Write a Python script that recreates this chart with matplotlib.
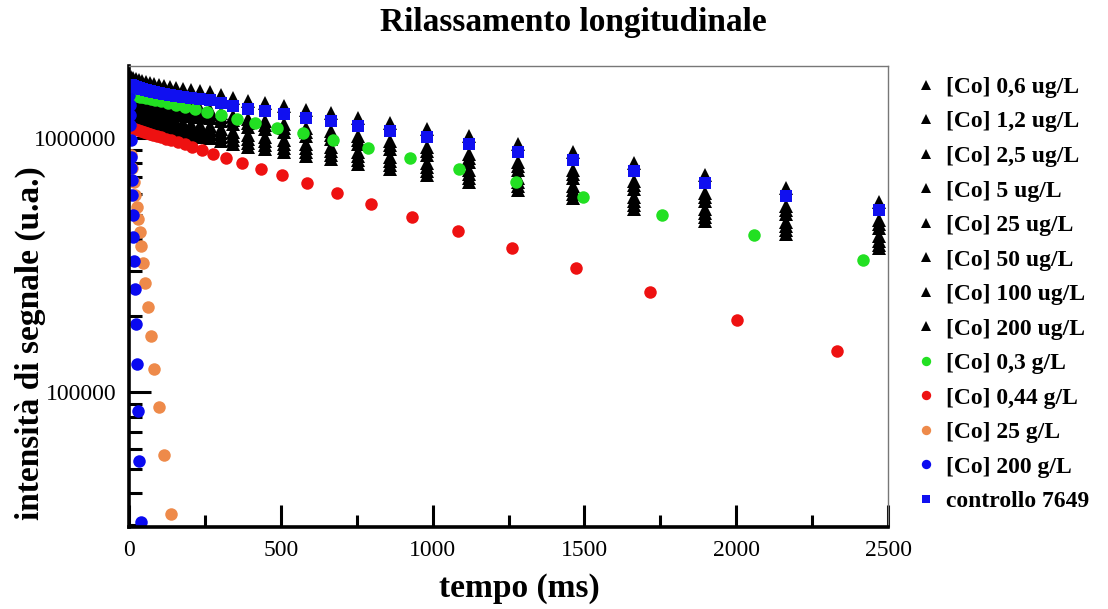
import numpy as np
import matplotlib
matplotlib.use("Agg")
import matplotlib.pyplot as plt
from matplotlib.ticker import FixedLocator, LogLocator, NullFormatter

plt.rcParams['font.family'] = ['Liberation Serif', 'DejaVu Serif']

# tempi (ms) serie triangoli / controllo
t_main = [5, 13, 23, 33, 43, 56, 69, 82, 99, 115, 135, 155, 178, 204, 234, 267, 303,
          343, 392, 449, 511, 584, 666, 755, 861, 983, 1121, 1280, 1461, 1662, 1896,
          2164, 2470]

# valori in milioni (u.a.)
co_06ug = [1.732, 1.717, 1.701, 1.686, 1.671, 1.656, 1.640, 1.625, 1.611, 1.596, 1.582,
           1.568, 1.554, 1.540, 1.527, 1.513, 1.473, 1.434, 1.395, 1.371, 1.334, 1.287,
           1.252, 1.198, 1.145, 1.085, 1.018, 0.948, 0.882, 0.799, 0.717, 0.637, 0.558]
co_12ug = [1.471, 1.458, 1.444, 1.432, 1.419, 1.406, 1.393, 1.380, 1.369, 1.356, 1.344,
           1.332, 1.320, 1.308, 1.296, 1.285, 1.251, 1.218, 1.185, 1.164, 1.133, 1.093,
           1.064, 1.017, 0.972, 0.921, 0.865, 0.805, 0.749, 0.678, 0.609, 0.541, 0.474]
co_25ug = [1.419, 1.407, 1.394, 1.381, 1.369, 1.357, 1.344, 1.332, 1.321, 1.308, 1.297,
           1.285, 1.274, 1.262, 1.251, 1.240, 1.207, 1.175, 1.144, 1.123, 1.093, 1.055,
           1.026, 0.981, 0.938, 0.889, 0.834, 0.777, 0.722, 0.655, 0.588, 0.522, 0.457]
co_5ug = [1.368, 1.356, 1.343, 1.331, 1.319, 1.307, 1.296, 1.284, 1.273, 1.261, 1.250,
          1.239, 1.228, 1.217, 1.206, 1.195, 1.163, 1.133, 1.102, 1.082, 1.054, 1.016,
          0.989, 0.946, 0.904, 0.857, 0.804, 0.749, 0.696, 0.631, 0.566, 0.503, 0.441]
co_25ugb = [1.273, 1.262, 1.250, 1.239, 1.228, 1.217, 1.206, 1.194, 1.184, 1.173, 1.163,
            1.153, 1.142, 1.132, 1.122, 1.112, 1.082, 1.054, 1.025, 1.007, 0.980, 0.946,
            0.920, 0.880, 0.841, 0.797, 0.748, 0.697, 0.648, 0.587, 0.527, 0.468, 0.410]
co_50ug = [1.228, 1.217, 1.205, 1.195, 1.184, 1.173, 1.163, 1.152, 1.142, 1.132, 1.122,
           1.112, 1.102, 1.092, 1.082, 1.072, 1.044, 1.017, 0.989, 0.972, 0.946, 0.912,
           0.888, 0.849, 0.812, 0.769, 0.722, 0.672, 0.625, 0.566, 0.508, 0.452, 0.395]
co_100ug = [1.184, 1.174, 1.163, 1.152, 1.142, 1.132, 1.122, 1.111, 1.102, 1.091, 1.082,
            1.072, 1.063, 1.053, 1.044, 1.034, 1.007, 0.980, 0.954, 0.937, 0.912, 0.880,
            0.856, 0.819, 0.783, 0.742, 0.696, 0.648, 0.603, 0.546, 0.490, 0.436, 0.381]
co_200ug = [1.142, 1.132, 1.122, 1.112, 1.102, 1.092, 1.082, 1.072, 1.063, 1.053, 1.044,
            1.034, 1.025, 1.016, 1.007, 0.998, 0.971, 0.946, 0.920, 0.904, 0.880, 0.849,
            0.826, 0.790, 0.755, 0.715, 0.671, 0.625, 0.581, 0.527, 0.473, 0.420, 0.368]
controllo = [1.611, 1.597, 1.582, 1.568, 1.554, 1.540, 1.526, 1.512, 1.499, 1.485, 1.472,
             1.459, 1.446, 1.433, 1.420, 1.407, 1.370, 1.334, 1.298, 1.275, 1.241, 1.197,
             1.165, 1.114, 1.065, 1.009, 0.947, 0.882, 0.820, 0.743, 0.667, 0.593, 0.519]

t_03g = [26, 35, 46, 57, 71, 87, 106, 129, 155, 184, 218, 257, 303, 356, 416, 488, 574,
         673, 788, 927, 1088, 1276, 1497, 1755, 2058, 2418]
co_03g = [1.464, 1.456, 1.446, 1.436, 1.424, 1.410, 1.393, 1.373, 1.351, 1.327, 1.299,
          1.268, 1.233, 1.193, 1.149, 1.099, 1.042, 0.979, 0.912, 0.837, 0.757, 0.674,
          0.587, 0.500, 0.414, 0.331]

t_044g = [10, 20, 30, 40, 50, 60, 70, 80, 92, 106, 121, 139, 160, 183, 209, 240, 277, 320,
          372, 435, 504, 586, 685, 797, 932, 1084, 1262, 1472, 1716, 2003, 2332]
co_044g = [1.096, 1.086, 1.077, 1.068, 1.058, 1.049, 1.040, 1.031, 1.020, 1.008, 0.995,
           0.980, 0.962, 0.943, 0.921, 0.897, 0.869, 0.837, 0.800, 0.757, 0.713, 0.664,
           0.609, 0.552, 0.491, 0.430, 0.368, 0.307, 0.248, 0.193, 0.145]

t_25g = [5, 10, 15, 20, 25, 30, 35, 40, 46, 53, 62, 72, 83, 98, 115, 138]
co_25g = [0.857, 0.762, 0.671, 0.596, 0.535, 0.480, 0.426, 0.376, 0.322, 0.269, 0.216,
          0.166, 0.1232, 0.0873, 0.0565, 0.0331]

t_200g = [1, 2, 3, 4, 5, 6.6, 7.6, 8.7, 10.1, 11.9, 13.9, 16.1, 18.7, 21.9, 25.6, 29.9,
          34.4, 40]
co_200g = [1.477, 1.349, 1.232, 1.125, 0.982, 0.842, 0.762, 0.683, 0.596, 0.497, 0.408,
           0.328, 0.254, 0.185, 0.1289, 0.0842, 0.0535, 0.0308]

tri_series = [("[Co] 0,6 ug/L", co_06ug), ("[Co] 1,2 ug/L", co_12ug),
              ("[Co] 2,5 ug/L", co_25ug), ("[Co] 5 ug/L", co_5ug),
              ("[Co] 25 ug/L", co_25ugb), ("[Co] 50 ug/L", co_50ug),
              ("[Co] 100 ug/L", co_100ug), ("[Co] 200 ug/L", co_200ug)]

fig = plt.figure(figsize=(11.08, 6.09), dpi=100)
ax = fig.add_axes([129 / 1108, 1 - 527 / 609, (888 - 129) / 1108, (527 - 66) / 609])

for lab, vals in tri_series:
    ax.plot(t_main, np.array(vals) * 1e6, '^', color='black', ms=9.5, mew=0, label=lab)
ax.plot(t_03g, np.array(co_03g) * 1e6, 'o', color='#22e022', ms=9, mew=0, label="[Co] 0,3 g/L")
ax.plot(t_044g, np.array(co_044g) * 1e6, 'o', color='#ee1111', ms=9, mew=0, label="[Co] 0,44 g/L")
ax.plot(t_25g, np.array(co_25g) * 1e6, 'o', color='#ee8a4a', ms=9, mew=0, label="[Co] 25 g/L")
ax.plot(t_200g, np.array(co_200g) * 1e6, 'o', color='#0a0af0', ms=9, mew=0, label="[Co] 200 g/L")
ax.plot(t_main, np.array(controllo) * 1e6, 's', color='#1010f0', ms=8.5, mew=0, label="controllo 7649")

ax.set_yscale('log')
ax.set_xlim(0, 2500)
ax.set_ylim(2.95e4, 1.92e6)

ax.xaxis.set_major_locator(FixedLocator([0, 500, 1000, 1500, 2000, 2500]))
ax.xaxis.set_minor_locator(FixedLocator([250, 750, 1250, 1750, 2250]))
ax.yaxis.set_major_locator(FixedLocator([1e5, 1e6]))
ax.yaxis.set_minor_locator(LogLocator(base=10, subs=np.arange(2, 10)))
ax.yaxis.set_minor_formatter(NullFormatter())
ax.set_yticklabels(["100000", "1000000"])

ax.tick_params(which='both', direction='in', top=False, right=False, width=2.2, color='black')
ax.tick_params(which='major', length=16, labelsize=17, pad=9)
ax.tick_params(which='minor', length=9)

for s in ['left', 'bottom']:
    ax.spines[s].set_linewidth(2.6)
    ax.spines[s].set_color('black')
for s in ['top', 'right']:
    ax.spines[s].set_linewidth(1.0)
    ax.spines[s].set_color('#777777')

fig.text(573 / 1108, 1 - 23 / 609, "Rilassamento longitudinale", ha='center', va='center',
         fontsize=24, fontweight='bold')
fig.text(519 / 1108, 1 - 588 / 609, "tempo (ms)", ha='center', va='center',
         fontsize=24, fontweight='bold')
fig.text(30 / 1108, 1 - 343 / 609, "intensità di segnale (u.a.)", ha='center', va='center',
         rotation=90, fontsize=24, fontweight='bold')

leg = fig.legend(loc='upper left', bbox_to_anchor=(905 / 1108, 1 - 67 / 609), frameon=False,
                 prop={'weight': 'bold', 'size': 17}, markerscale=0.75, handletextpad=0.35,
                 labelspacing=0.55, borderaxespad=0, handlelength=1.0)

fig.savefig("out.png", dpi=100)
